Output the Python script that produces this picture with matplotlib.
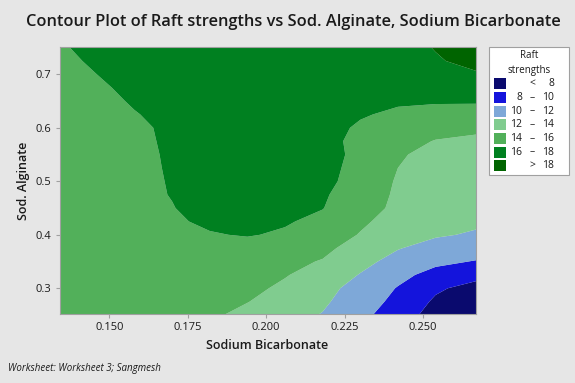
import numpy as np
import matplotlib
matplotlib.use("Agg")
from matplotlib import pyplot as plt
from matplotlib.patches import Rectangle

# Sodium Bicarbonate (x) and Sod. Alginate (y) grid
sodium_bicarb = [0.134, 0.146, 0.158, 0.170, 0.182, 0.194, 0.206, 0.218, 0.230, 0.242, 0.254, 0.267]
sod_alginate = [0.25, 0.275, 0.30, 0.325, 0.35, 0.375, 0.40, 0.425, 0.45, 0.475, 0.50,
                0.525, 0.55, 0.575, 0.60, 0.625, 0.65, 0.675, 0.70, 0.725, 0.75]

# Raft strengths, one row per Sod. Alginate value (bottom to top)
raft_strength = [
    [15.0, 15.0, 14.9, 14.6, 14.3, 13.5, 12.7, 11.9, 10.5, 9.0, 7.2, 6.5],
    [15.05, 15.05, 14.95, 14.7, 14.45, 14.05, 13.2, 12.3, 10.9, 9.5, 7.7, 6.9],
    [15.1, 15.1, 15.0, 14.8, 14.6, 14.4, 13.7, 12.7, 11.2, 9.9, 8.3, 7.3],
    [15.15, 15.15, 15.1, 14.9, 14.75, 14.55, 14.1, 13.3, 11.9, 10.5, 9.4, 8.6],
    [15.2, 15.2, 15.2, 15.0, 14.9, 14.7, 14.4, 13.9, 12.6, 11.3, 10.4, 9.9],
    [15.25, 15.3, 15.35, 15.35, 15.4, 15.4, 15.1, 14.4, 13.3, 12.1, 11.3, 10.9],
    [15.3, 15.4, 15.5, 15.7, 15.9, 16.1, 15.8, 15.0, 13.9, 13.0, 12.2, 11.8],
    [15.3, 15.45, 15.6, 15.8, 16.25, 16.4, 16.15, 15.6, 14.3, 13.3, 12.6, 12.3],
    [15.3, 15.5, 15.7, 15.95, 16.5, 16.6, 16.4, 16.05, 14.8, 13.6, 13.0, 12.8],
    [15.25, 15.45, 15.65, 16.05, 16.6, 16.75, 16.6, 16.2, 15.1, 13.7, 13.2, 13.0],
    [15.2, 15.4, 15.6, 16.1, 16.7, 16.9, 16.8, 16.4, 15.4, 13.8, 13.4, 13.2],
    [15.15, 15.35, 15.6, 16.15, 16.75, 16.95, 16.9, 16.5, 15.5, 14.0, 13.5, 13.3],
    [15.1, 15.3, 15.6, 16.2, 16.8, 17.0, 17.0, 16.6, 15.6, 14.15, 13.6, 13.4],
    [15.05, 15.25, 15.65, 16.25, 16.85, 17.05, 17.05, 16.6, 15.5, 14.4, 13.95, 13.8],
    [15.0, 15.2, 15.7, 16.3, 16.9, 17.1, 17.1, 16.8, 15.7, 14.9, 14.4, 14.2],
    [15.0, 15.3, 15.9, 16.55, 17.0, 17.15, 17.15, 16.9, 16.2, 15.6, 15.3, 15.2],
    [15.0, 15.4, 16.2, 16.8, 17.1, 17.2, 17.2, 17.0, 16.6, 16.3, 16.2, 16.2],
    [15.2, 15.7, 16.45, 16.9, 17.15, 17.25, 17.25, 17.15, 16.95, 16.85, 16.95, 17.05],
    [15.4, 16.0, 16.6, 17.0, 17.2, 17.3, 17.3, 17.3, 17.3, 17.4, 17.7, 17.9],
    [15.6, 16.25, 16.75, 17.05, 17.2, 17.3, 17.3, 17.3, 17.35, 17.5, 17.9, 18.3],
    [15.8, 16.5, 16.9, 17.1, 17.2, 17.3, 17.3, 17.3, 17.4, 17.6, 18.05, 18.5],
]

levels = [0, 8, 10, 12, 14, 16, 18, 40]
level_labels = [("", "<", "8"), ("8", "–", "10"), ("10", "–", "12"), ("12", "–", "14"),
                ("14", "–", "16"), ("16", "–", "18"), ("", ">", "18")]
colors = ["#0a0a6e", "#1414dc", "#7ea8d8", "#80cc8f", "#52b05a", "#008020", "#006400"]

FONT = "Open Sans"
BG = "#e6e6e6"
GRAY = "#a0a0a0"

fig = plt.figure(figsize=(5.75, 3.83), dpi=100, facecolor=BG)
ax = fig.add_axes([0.1035, 0.180, 0.7238, 0.698])
ax.set_facecolor(BG)

X, Y = np.meshgrid(sodium_bicarb, sod_alginate)
Z = np.array(raft_strength)
ax.contourf(X, Y, Z, levels=levels, colors=colors, antialiased=True)

ax.set_xlim(0.1341, 0.2668)
ax.set_ylim(0.2518, 0.7516)
ax.set_xticks([0.150, 0.175, 0.200, 0.225, 0.250])
ax.set_xticklabels(["0.150", "0.175", "0.200", "0.225", "0.250"])
ax.set_yticks([0.3, 0.4, 0.5, 0.6, 0.7])
ax.set_yticklabels(["0.3", "0.4", "0.5", "0.6", "0.7"])
ax.tick_params(length=3, width=0.8, color=GRAY, labelsize=8, pad=3, labelcolor="#1a1a1a")
for lbl in ax.get_xticklabels() + ax.get_yticklabels():
    lbl.set_family(FONT)
for s in ax.spines.values():
    s.set_color(GRAY)
    s.set_linewidth(0.8)

ax.set_xlabel("Sodium Bicarbonate", family=FONT, fontsize=9, fontweight="semibold",
              color="#1a1a1a", labelpad=4)
ax.set_ylabel("Sod. Alginate", family=FONT, fontsize=9, fontweight="semibold",
              color="#1a1a1a", labelpad=4)

fig.text(0.510, 0.943, "Contour Plot of Raft strengths vs Sod. Alginate, Sodium Bicarbonate",
         ha="center", va="center", family=FONT, fontsize=11.8, fontweight="semibold",
         color="#1a1a1a")
fig.text(8 / 575, 1 - 368 / 383, "Worksheet: Worksheet 3; Sangmesh", ha="left", va="center",
         family=FONT, fontsize=7, style="italic", color="#1a1a1a")

# legend box drawn in figure pixel coordinates
W, H = 575.0, 383.0


def fx(px):
    return px / W


def fy(py):
    return 1 - py / H


fig.patches.append(Rectangle((fx(489), fy(175)), (569 - 489) / W, (175 - 47.3) / H,
                             transform=fig.transFigure, facecolor="white",
                             edgecolor=GRAY, linewidth=0.8))
fig.text(fx(529), fy(56), "Raft", ha="center", va="center", family=FONT, fontsize=7,
         color="#1a1a1a")
fig.text(fx(529), fy(70.5), "strengths", ha="center", va="center", family=FONT, fontsize=7,
         color="#1a1a1a")
for i, (col, (lo, mid, hi)) in enumerate(zip(colors, level_labels)):
    yc = 83.7 + i * 13.67
    fig.patches.append(Rectangle((fx(494), fy(yc + 5.5)), 11.7 / W, 11 / H,
                                 transform=fig.transFigure, facecolor=col, edgecolor="none"))
    kw = dict(va="center", family=FONT, fontsize=7.5, color="#1a1a1a")
    if lo:
        fig.text(fx(522), fy(yc), lo, ha="right", **kw)
    fig.text(fx(532), fy(yc), mid, ha="center", **kw)
    fig.text(fx(554), fy(yc), hi, ha="right", **kw)

fig.savefig("out.png", dpi=100, facecolor=BG)
